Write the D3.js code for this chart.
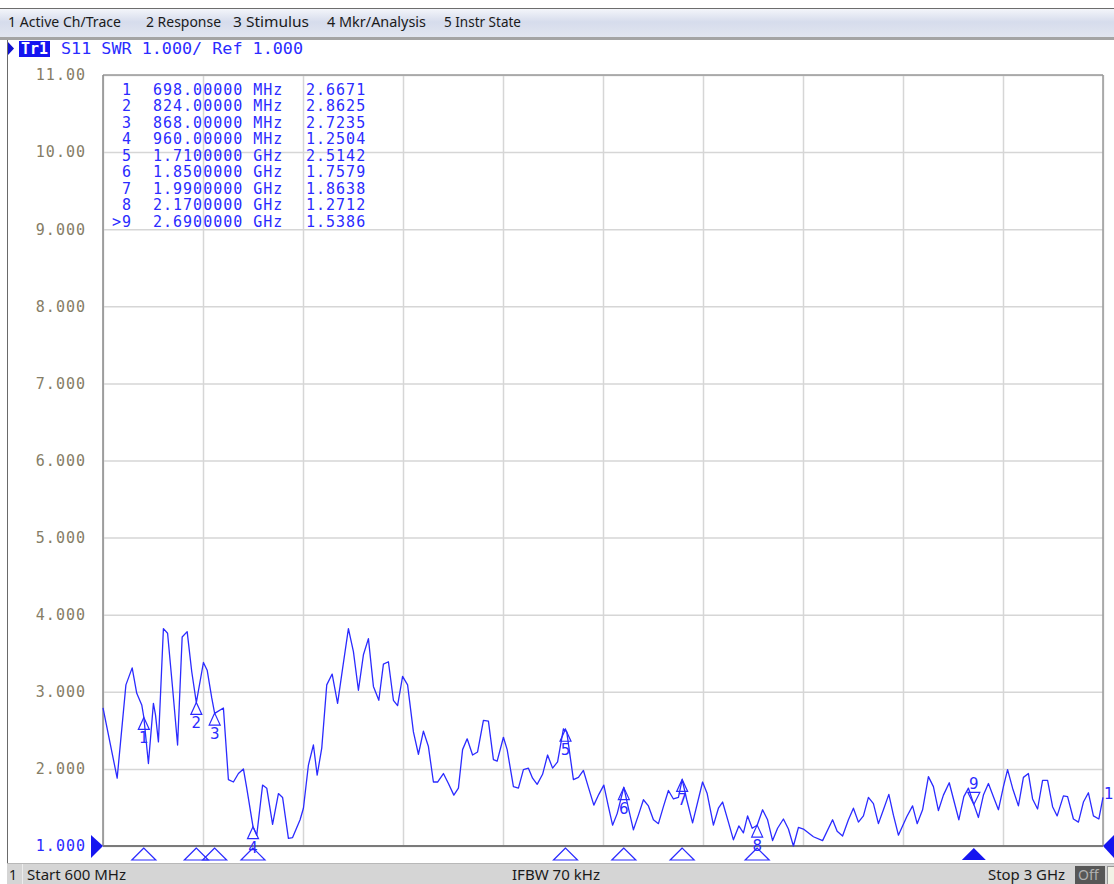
<!DOCTYPE html>
<html>
<head>
<meta charset="utf-8">
<script src="https://cdn.jsdelivr.net/npm/d3@7"></script>
<style>
  body { margin: 0; background: #fff; }
  svg { display: block; }
  .mono { font-family: "DejaVu Sans Mono", monospace; }
  .ui { font-family: "Noto Sans", "Open Sans", sans-serif; }
</style>
</head>
<body>
<div id="chart"></div>
<script>
// ---- data ----
const freqMHz = [600,634,655,670,681,693,698,709,721,726,733,745,755,767,779,790,802,813,824,841,850,861,868,889,901,913,925,937,945,960,969,983,993,1007,1021,1031,1045,1055,1073,1081,1093,1105,1114,1125,1137,1150,1163,1175,1189,1201,1213,1225,1237,1249,1262,1273,1285,1297,1307,1319,1331,1345,1357,1369,1381,1393,1403,1417,1429,1442,1453,1463,1474,1487,1499,1513,1525,1537,1546,1561,1570,1585,1597,1609,1621,1631,1642,1655,1667,1679,1691,1705,1713,1729,1741,1753,1765,1778,1790,1802,1813,1823,1834,1850,1861,1873,1885,1897,1909,1921,1933,1945,1957,1969,1981,1990,2001,2015,2039,2050,2065,2077,2087,2101,2113,2126,2137,2147,2158,2170,2183,2195,2207,2219,2233,2245,2257,2269,2281,2305,2327,2351,2362,2375,2389,2401,2413,2425,2437,2449,2461,2473,2486,2497,2509,2529,2543,2554,2567,2581,2593,2605,2617,2631,2642,2654,2666,2677,2690,2701,2713,2725,2737,2749,2761,2771,2783,2797,2809,2821,2831,2843,2855,2867,2879,2890,2905,2915,2929,2941,2953,2965,2977,2990,3000];
const swr = [2.79,1.88,3.09,3.31,2.98,2.83,2.67,2.07,2.85,2.70,2.35,3.82,3.76,3.05,2.31,3.71,3.78,3.26,2.86,3.38,3.28,2.92,2.72,2.79,1.86,1.83,1.94,2.00,1.75,1.25,1.14,1.79,1.75,1.28,1.68,1.63,1.10,1.11,1.34,1.49,2.05,2.31,1.92,2.27,3.09,3.23,2.85,3.30,3.82,3.52,3.02,3.48,3.69,3.07,2.89,3.36,3.39,2.89,2.82,3.20,3.09,2.48,2.19,2.49,2.29,1.83,1.83,1.94,1.81,1.66,1.75,2.25,2.39,2.18,2.22,2.63,2.62,2.12,2.10,2.41,2.25,1.77,1.75,1.99,2.01,1.88,1.80,1.93,2.18,2.01,2.09,2.52,2.48,1.86,1.89,1.98,1.76,1.53,1.67,1.79,1.51,1.27,1.42,1.76,1.49,1.21,1.40,1.60,1.52,1.34,1.29,1.51,1.72,1.61,1.63,1.86,1.60,1.30,1.83,1.68,1.27,1.49,1.57,1.31,1.08,1.26,1.17,1.39,1.23,1.27,1.47,1.34,1.07,1.23,1.35,1.22,1.00,1.24,1.22,1.12,1.07,1.34,1.19,1.13,1.34,1.49,1.31,1.39,1.63,1.55,1.29,1.47,1.67,1.40,1.14,1.38,1.52,1.29,1.47,1.90,1.77,1.46,1.66,1.82,1.59,1.34,1.64,1.75,1.54,1.37,1.66,1.81,1.64,1.47,1.77,1.99,1.75,1.52,1.89,1.94,1.61,1.48,1.85,1.85,1.51,1.39,1.65,1.64,1.35,1.31,1.57,1.69,1.39,1.35,1.63];

const markerIds   = ['1','2','3','4','5','6','7','8','9'];
const markerFreqs = [698, 824, 868, 960, 1710, 1850, 1990, 2170, 2690];
const markerVals  = [2.6671, 2.8625, 2.7235, 1.2504, 2.5142, 1.7579, 1.8638, 1.2712, 1.5386];
const activeMarker = '9';

const yTicks = [1,2,3,4,5,6,7,8,9,10,11];
const xDivs  = [600,840,1080,1320,1560,1800,2040,2280,2520,2760,3000];

const menuItems  = ['1 Active Ch/Trace', '2 Response', '3 Stimulus', '4 Mkr/Analysis', '5 Instr State'];
const traceTitle = 'S11 SWR 1.000/ Ref 1.000';
const statusStart = 'Start 600 MHz';
const statusIfbw  = 'IFBW 70 kHz';
const statusStop  = 'Stop 3 GHz';

// ---- layout ----
const W = 1114, H = 884;
const P = { left: 103, right: 1103, top: 75, bottom: 846 };
const BLUE = '#2b2bff';
const MENU_X = [[8, 113], [146, 75], [233, 76], [327, 99], [444, 77]];

const svg = d3.select('#chart').append('svg')
  .attr('width', W).attr('height', H);

const defs = svg.append('defs');
const grad = defs.append('linearGradient').attr('id', 'menuGrad')
  .attr('x1', 0).attr('y1', 0).attr('x2', 0).attr('y2', 1);
grad.append('stop').attr('offset', '0%').attr('stop-color', '#f3f5fa');
grad.append('stop').attr('offset', '45%').attr('stop-color', '#d6dcec');
grad.append('stop').attr('offset', '100%').attr('stop-color', '#e2e6f0');

// menu bar
svg.append('rect').attr('x', 0).attr('y', 9).attr('width', W).attr('height', 29).attr('fill', 'url(#menuGrad)');
svg.append('line').attr('x1', 0).attr('x2', W).attr('y1', 8.5).attr('y2', 8.5).attr('stroke', '#6d6d6d');
svg.append('rect').attr('x', 0).attr('y', 37).attr('width', W).attr('height', 3).attr('fill', '#a4a4a4');
svg.selectAll('.menu').data(menuItems).join('text')
  .attr('class', 'ui')
  .attr('x', (d, i) => MENU_X[i][0])
  .attr('y', 27)
  .attr('textLength', (d, i) => MENU_X[i][1])
  .attr('lengthAdjust', 'spacingAndGlyphs')
  .attr('font-size', 14)
  .attr('fill', '#1a1a1a')
  .text(d => d);

// window left border
svg.append('line').attr('x1', 7.5).attr('x2', 7.5).attr('y1', 40).attr('y2', 864).attr('stroke', '#6a6a6a');

// trace header
svg.append('path').attr('d', 'M8,42 L14,48.5 L8,55 Z').attr('fill', '#1010d0');
svg.append('rect').attr('x', 19).attr('y', 41).attr('width', 31).attr('height', 16).attr('fill', '#1515f0');
svg.append('text').attr('class', 'mono').attr('x', 21).attr('y', 54)
  .attr('font-size', 15).attr('font-weight', 'bold').attr('fill', '#fff')
  .attr('textLength', 27).attr('lengthAdjust', 'spacingAndGlyphs').text('Tr1');
svg.append('text').attr('class', 'mono').attr('x', 61).attr('y', 54)
  .attr('font-size', 16).attr('fill', BLUE)
  .attr('textLength', 242).attr('lengthAdjust', 'spacingAndGlyphs').text(traceTitle);

// scales
const x = d3.scaleLinear().domain([600, 3000]).range([P.left, P.right]);
const y = d3.scaleLinear().domain([1, 11]).range([P.bottom, P.top]);

// grid
svg.append('g').attr('transform', `translate(${P.left},0)`)
  .call(d3.axisLeft(y).tickValues(yTicks).tickSize(-(P.right - P.left)).tickFormat(''))
  .call(g => g.select('.domain').remove())
  .call(g => g.selectAll('line').attr('stroke', '#d6d6d6').attr('stroke-width', 1.5));
svg.append('g').attr('transform', `translate(0,${P.bottom})`)
  .call(d3.axisBottom(x).tickValues(xDivs).tickSize(-(P.bottom - P.top)).tickFormat(''))
  .call(g => g.select('.domain').remove())
  .call(g => g.selectAll('line').attr('stroke', '#d6d6d6').attr('stroke-width', 1.5));

// frame
svg.append('line').attr('x1', P.left).attr('x2', P.right).attr('y1', P.top).attr('y2', P.top).attr('stroke', '#9a9a9a').attr('stroke-width', 1.5);
svg.append('line').attr('x1', P.left).attr('x2', P.left).attr('y1', P.top).attr('y2', P.bottom).attr('stroke', '#8a8a8a').attr('stroke-width', 1.5);
svg.append('line').attr('x1', P.right).attr('x2', P.right).attr('y1', P.top).attr('y2', P.bottom).attr('stroke', '#9a9a9a').attr('stroke-width', 1.5);
svg.append('line').attr('x1', P.left).attr('x2', P.right).attr('y1', P.bottom).attr('y2', P.bottom).attr('stroke', '#7a7a7a').attr('stroke-width', 2);

// y labels
const yAxis = svg.append('g').attr('transform', `translate(${P.left},0)`)
  .call(d3.axisLeft(y).tickValues(yTicks).tickSize(0).tickPadding(17).tickFormat(d3.format('.4r')))
  .call(g => g.select('.domain').remove());
yAxis.selectAll('text')
  .attr('class', 'mono')
  .attr('font-size', 15)
  .attr('letter-spacing', 1)
  .attr('fill', d => d === 1 ? BLUE : '#857d66');

// marker table
const table = svg.append('g').attr('class', 'mono').attr('font-size', 15).attr('fill', BLUE);
const fmtFreq = f => f < 1000 ? f.toFixed(5) + ' MHz' : (f / 1000).toFixed(7) + ' GHz';
markerIds.forEach((id, i) => {
  const yy = 95 + i * 16.45;
  table.append('text').attr('x', 132).attr('y', yy).attr('text-anchor', 'end')
    .attr('letter-spacing', 1).text(id === activeMarker ? '>' + id : id);
  table.append('text').attr('x', 153).attr('y', yy).attr('letter-spacing', 1).text(fmtFreq(markerFreqs[i]));
  table.append('text').attr('x', 306).attr('y', yy).attr('letter-spacing', 1).text(markerVals[i].toFixed(4));
});

// trace
const pts = freqMHz.map((f, i) => [f, swr[i]]);
svg.append('path')
  .datum(pts)
  .attr('fill', 'none')
  .attr('stroke', BLUE)
  .attr('stroke-width', 1.3)
  .attr('stroke-linejoin', 'round')
  .attr('d', d3.line().x(d => x(d[0])).y(d => y(d[1])));

// markers on trace
const mk = svg.append('g').attr('fill', 'none').attr('stroke', BLUE).attr('stroke-width', 1.2);
const mkText = svg.append('g').attr('font-family', '"DejaVu Sans", sans-serif').attr('font-size', 15)
  .attr('fill', BLUE).attr('text-anchor', 'middle');
markerIds.forEach((id, i) => {
  const cx = x(markerFreqs[i]), cy = y(markerVals[i]);
  if (id === activeMarker) {
    mk.append('path').attr('d', `M${cx},${cy} L${cx - 6},${cy - 12} L${cx + 6},${cy - 12} Z`);
    mkText.append('text').attr('x', cx).attr('y', cy - 15).text(id);
    svg.append('path').attr('d', `M${cx},${P.bottom + 2} L${cx - 12},${P.bottom + 14} L${cx + 12},${P.bottom + 14} Z`)
      .attr('fill', '#1515f0');
  } else {
    mk.append('path').attr('d', `M${cx},${cy} L${cx - 5.5},${cy + 12} L${cx + 5.5},${cy + 12} Z`);
    mkText.append('text').attr('x', cx).attr('y', cy + 26).text(id);
    mk.append('path').attr('d', `M${cx},${P.bottom + 2} L${cx - 12},${P.bottom + 14} L${cx + 12},${P.bottom + 14} Z`);
  }
});

// reference level arrows
svg.append('path').attr('d', `M91,${P.bottom - 11} L${P.left},${P.bottom} L91,${P.bottom + 12} Z`).attr('fill', '#1515f0');
svg.append('path').attr('d', `M${W},${P.bottom - 11} L${P.right},${P.bottom} L${W},${P.bottom + 12} Z`).attr('fill', '#1515f0');
svg.append('text').attr('x', 1104).attr('y', 799).attr('font-family', '"DejaVu Sans", sans-serif')
  .attr('font-size', 15).attr('fill', BLUE).text('1');

// status bar
svg.append('rect').attr('x', 7).attr('y', 863).attr('width', W - 7).attr('height', 21).attr('fill', '#d5d5d5');
svg.append('line').attr('x1', 7).attr('x2', W).attr('y1', 863.5).attr('y2', 863.5).attr('stroke', '#b8b8b8');
svg.append('line').attr('x1', 22.5).attr('x2', 22.5).attr('y1', 864).attr('y2', H).attr('stroke', '#ececec');
const status = svg.append('g').attr('class', 'ui').attr('font-size', 14).attr('fill', '#1a1a1a');
status.append('text').attr('x', 9).attr('y', 880).text('1');
status.append('text').attr('x', 27).attr('y', 880).attr('textLength', 99).attr('lengthAdjust', 'spacingAndGlyphs').text(statusStart);
status.append('text').attr('x', 512).attr('y', 880).attr('textLength', 88).attr('lengthAdjust', 'spacingAndGlyphs').text(statusIfbw);
status.append('text').attr('x', 988).attr('y', 880).attr('textLength', 77).attr('lengthAdjust', 'spacingAndGlyphs').text(statusStop);
svg.append('rect').attr('x', 1075).attr('y', 866).attr('width', 30).attr('height', 18).attr('fill', '#575757');
svg.append('text').attr('class', 'ui').attr('x', 1078).attr('y', 880).attr('font-size', 14)
  .attr('fill', '#b0b0b0').text('Off');
svg.append('rect').attr('x', 1107.5).attr('y', 866.5).attr('width', 10).attr('height', 18)
  .attr('fill', '#f2f2e6').attr('stroke', '#999');
</script>
</body>
</html>
